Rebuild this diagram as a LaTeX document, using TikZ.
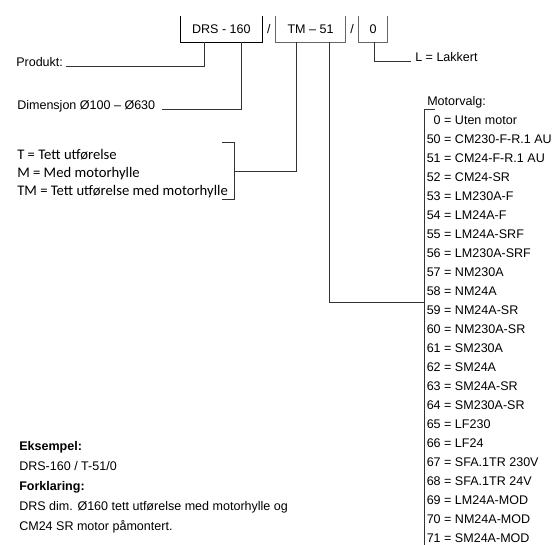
\documentclass[tikz,border=0pt]{standalone}
\usepackage{fontspec}
\setmainfont{Liberation Sans}
\newfontfamily\calibri{Carlito}
\usepackage{tikz}
\tikzstyle{boks}=[inner sep=0pt, minimum height=19.3pt, font=\fontsize{9.4}{11}\selectfont]
\tikzstyle{txt}=[anchor=base west, inner sep=0pt, font=\fontsize{9.4}{11}\selectfont]
\tikzstyle{btxt}=[txt, font=\bfseries\fontsize{9.4}{11}\selectfont]
\tikzstyle{ctxt}=[anchor=base west, inner sep=0pt, font=\calibri\fontsize{11}{13}\selectfont]
\tikzstyle{boksline}=[line width=0.7pt]
\tikzstyle{leader}=[line width=0.7pt, black!80]

\begin{document}
\begin{tikzpicture}[x=0.75pt,y=-0.75pt]
\useasboundingbox (0,0) rectangle (557,544);

% typekode
\node[boks,minimum width=60.5pt] (drs) at (221.4,28.9) {DRS - 160};
\node[boks,minimum width=51.8pt] (tm) at (310.5,28.9) {TM – 51};
\node[boks,minimum width=21pt] (nul) at (373,28.9) {0};
\node[boks] (s1) at (268.8,29.5) {/};
\node[boks] (s2) at (352,29.5) {/};

\draw[boksline] (drs.north west) |- (drs.south east) -- (drs.north east);
\draw[boksline,black!60] (tm.north west) |- (tm.south east) -- (tm.north east);
\draw[boksline,black!60] (nul.north west) |- (nul.south east) -- (nul.north east);

\coordinate (a1) at (204,41.7);
\coordinate (a2) at (241,41.7);
\coordinate (a3) at (296,41.7);
\coordinate (a4) at (329,41.7);
\coordinate (a5) at (374,41.7);

% forklaringer
\node[txt] (prod) at (16,66.7) {Produkt:};
\node[txt] (dim) at (17,109) {Dimensjon Ø100 – Ø630};
\node[txt] (lak) at (415,61.7) {L = Lakkert};
\node[ctxt] (t1) at (17,159.7) {T = Tett utførelse};
\node[ctxt] (t2) at (17,177.5) {M = Med motorhylle};
\node[ctxt] (t3) at (17,195.7) {TM = Tett utførelse med motorhylle};

\coordinate (bt) at (234,142.7);
\coordinate (bm) at (234,171);
\coordinate (bb) at (234,199);
\draw[leader] ([xshift=-9pt]bt) -- (bt) -- (bb) -- ([xshift=-9pt]bb);

\draw[leader] ([xshift=2pt]prod.base east) -| (a1);
\draw[leader] ([xshift=5pt]dim.base east) -| (a2);
\draw[leader] (bm) -| (a3);
\draw[leader] (a5) |- ([xshift=-3pt]lak.base west);

% motorvalg
\node[txt] (mvalg) at (427,105.3) {Motorvalg:};
\coordinate (mt) at (424,109);
\coordinate (mv) at (424,302.7);
\coordinate (mb) at (424,545);
\draw[leader] ([xshift=8pt]mt) -- (mt) -- (mb);
\draw[leader] (a4) |- (mv);

\foreach \t [count=\i] in {{\phantom{5}0 = Uten motor}, 50 = CM230-F-R.1 AU,
  51 = CM24-F-R.1 AU, 52 = CM24-SR, 53 = LM230A-F, 54 = LM24A-F,
  55 = LM24A-SRF, 56 = LM230A-SRF, 57 = NM230A, 58 = NM24A, 59 = NM24A-SR,
  60 = NM230A-SR, 61 = SM230A, 62 = SM24A, 63 = SM24A-SR, 64 = SM230A-SR,
  65 = LF230, 66 = LF24, 67 = SFA.1TR 230V, 68 = SFA.1TR 24V,
  69 = LM24A-MOD, 70 = NM24A-MOD, 71 = SM24A-MOD}
  \node[txt] (m\i) at (426.5,{105.3+19*\i}) {\t};

% eksempel
\node[btxt] (eks) at (19,450.3) {Eksempel:};
\node[txt] (eks1) at (19,470.3) {DRS-160 / T-51/0};
\node[btxt] (fork) at (19,490.3) {Forklaring:};
\node[txt] (fork1) at (19,510.3) {DRS dim. Ø160 tett utførelse med motorhylle og};
\node[txt] (fork2) at (19,530.3) {CM24 SR motor påmontert.};
\end{tikzpicture}
\end{document}
